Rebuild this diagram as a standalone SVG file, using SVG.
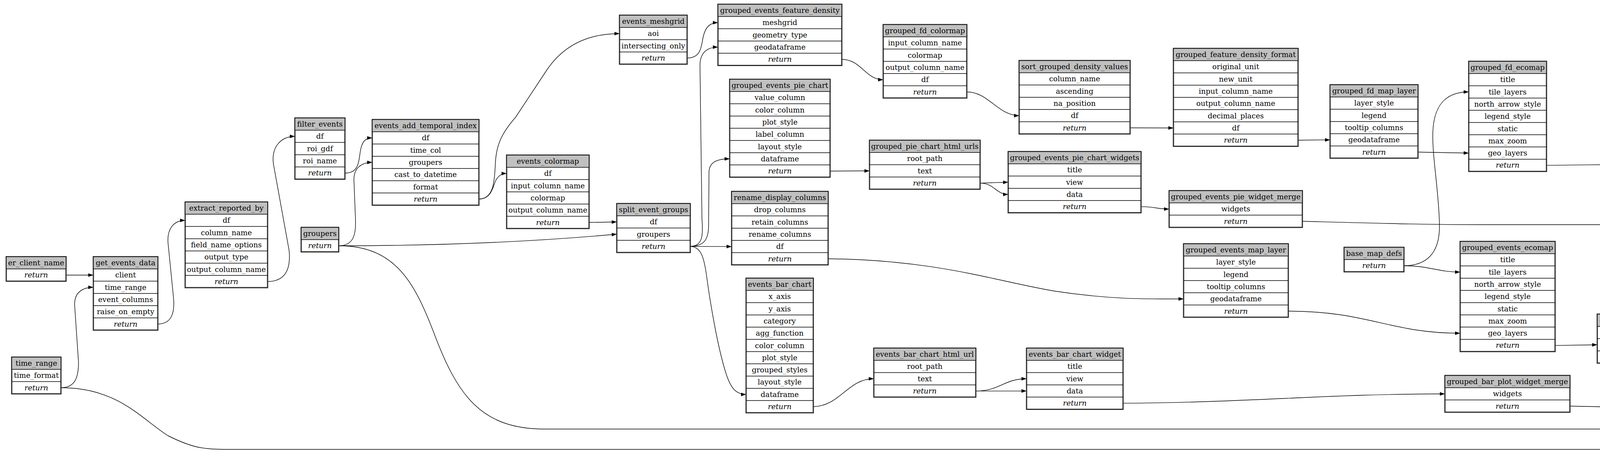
<svg xmlns="http://www.w3.org/2000/svg" width="5470" height="1190" viewBox="0 0 5470 1190">
<style>
.b{fill:#fff;stroke:#2a2a2a;stroke-width:3}
.h{fill:#c0c0c0;stroke:#000;stroke-width:1.5}
.s{fill:none;stroke:#000;stroke-width:1.5}
text{font-family:"DejaVu Serif","Liberation Serif",serif;font-size:18.67px;text-anchor:middle;fill:#000}
.r{font-style:italic}
#edges path{fill:none;stroke:#000;stroke-width:1.4;marker-end:url(#a)}
</style>
<defs>
<marker id="a" viewBox="0 0 10 7" refX="10" refY="3.5" markerWidth="13" markerHeight="9.5" markerUnits="userSpaceOnUse" orient="auto"><path d="M0,0L10,3.5L0,7z" fill="#000"/></marker>
</defs>
<rect width="5470" height="1190" fill="#fff"/>
<g id="edges">
<path d="M169,704 L239,704"/>
<path d="M156,992.3 C190,992 201,970 201,927 L191,780 C190,750 210,735.2 239,735.2"/>
<path d="M156,992.3 C300,992 360,1070 430,1115 C490,1145 520,1150 574,1150 L4700,1150 C4820,1158 4900,1188 4990,1186 C5100,1182 5180,1150 5215,1112 C5245,1078 5245,1034.9 5271,1034.9"/>
<path d="M404,829.2 C440,829 448,800 444,760 L430,620 C428,585 445,564 474,564"/>
<path d="M685,720.5 C730,720 745,690 740,640 L700,420 C694,375 720,349 755,349"/>
<path d="M883,443 C915,443 918,420 922,390 C926,362 935,353 953,353"/>
<path d="M867,629 C905,629 912,600 910,560 L906,460 C906,430 925,415.6 953,415.6"/>
<path d="M867,629 C1100,629 1350,620 1579,599.3"/>
<path d="M867,629 C1010,629 1060,720 1110,850 C1170,1010 1230,1098 1394,1098 L4700,1098 C4850,1106 4950,1116 5050,1100 C5150,1083 5210,1062 5232,1035 C5250,1012 5258,1003.6 5271,1003.6"/>
<path d="M1226,509.5 C1262,509 1266,470 1268,420 C1270,370 1285,340 1320,300 L1400,179 C1440,120 1500,86 1586,86"/>
<path d="M1226,509.5 C1260,509 1262,475 1270,460 C1278,448 1285,444 1297,444"/>
<path d="M1508,569.2 L1579,568"/>
<path d="M1759,148.6 C1795,148 1795,120 1800,95 C1806,68 1818,58 1838,58"/>
<path d="M1767,630.6 C1800,630 1800,600 1797,560 L1792,170 C1791,135 1810,120.6 1838,120.6"/>
<path d="M1767,630.6 C1805,630 1813,610 1814,580 L1815,440 C1816,415 1835,406.5 1868,406.5"/>
<path d="M1767,630.6 L1873,630.9"/>
<path d="M1767,630.6 C1795,631 1802,660 1808,700 C1820,790 1840,900 1860,960 C1872,995 1885,1009.4 1910,1009.4"/>
<path d="M2155,152 C2205,152 2215,203.9 2261,203.9"/>
<path d="M2475,235.2 C2530,235 2555,295.9 2609,295.9"/>
<path d="M2893,327.2 L3004,327.5"/>
<path d="M3323,358.8 L3405,357.9"/>
<path d="M3630,389.2 L3760,391.8"/>
<path d="M3594,680 C3650,680 3685,650 3685,580 C3685,500 3666,400 3668,340 C3670,270 3700,235.3 3760,235.3"/>
<path d="M3594,680 C3660,680 3680,696.3 3738,696.3"/>
<path d="M3959,423.1 L4112,421.3"/>
<path d="M4400,452.6 C4450,452.6 4465,422.3 4513,422.3"/>
<path d="M4400,452.6 L4513,453.6"/>
<path d="M4754,484.9 L4868,483"/>
<path d="M5179,514.3 C5210,514 5224,560 5226,640 L5222,880 C5222,940 5240,972.3 5271,972.3"/>
<path d="M5108,385 C5180,385 5232,450 5236,600 L5234,860 C5234,910 5245,941 5271,941"/>
<path d="M2125,437.8 L2226,437.3"/>
<path d="M2509,468.6 L2581,466.3"/>
<path d="M2509,468.6 C2545,468.6 2550,497.6 2581,497.6"/>
<path d="M2921,528.9 C2955,529 2965,535 2993,535"/>
<path d="M3334,566.3 C3550,572 3650,575 3800,575 L4640,575 C4850,577 4960,640 5100,780 C5180,860 5220,972.3 5271,972.3"/>
<path d="M2120,662.2 C2400,665 2550,720 2700,745 C2850,768 2950,764.9 3030,764.9"/>
<path d="M3298,796.2 C3500,796 3560,852.8 3738,852.8"/>
<path d="M3981,884.1 L4089,882.3"/>
<path d="M4422,913.6 C4460,913.6 4460,881.3 4491,881.3"/>
<path d="M4422,913.6 L4491,912.6"/>
<path d="M4776,943.9 L4846,942"/>
<path d="M5201,973.3 L5271,972.3"/>
<path d="M2082,1040.7 C2150,1040 2170,969.3 2237,969.3"/>
<path d="M2498,1000.6 C2560,1000.6 2570,969.3 2628,969.3"/>
<path d="M2498,1000.6 L2628,1000.6"/>
<path d="M2875,1031.9 C3200,1030 3400,1008 3699,1008"/>
<path d="M4019,1039.3 C4300,1045 4500,1051 4700,1051 C4950,1051 5150,1030 5211,1006 C5240,995 5250,972.3 5271,972.3"/>
</g>

<g id="er_client_name" transform="translate(16,657)"><rect class="b" width="153" height="62.6"/><rect class="h" width="153" height="31.3"/><text x="76.5" y="22">er_client_name</text><text class="r" x="76.5" y="53.3">return</text></g>

<g id="get_events_data" transform="translate(239,657)"><rect class="b" width="165" height="187.8"/><rect class="h" width="165" height="31.3"/><path class="s" d="M0,62.6H165M0,93.9H165M0,125.2H165M0,156.5H165"/><text x="82.5" y="22">get_events_data</text><text x="82.5" y="53.3">client</text><text x="82.5" y="84.6">time_range</text><text x="82.5" y="115.9">event_columns</text><text x="82.5" y="147.2">raise_on_empty</text><text class="r" x="82.5" y="178.5">return</text></g>

<g id="extract_reported_by" transform="translate(474,517)"><rect class="b" width="211" height="219.1"/><rect class="h" width="211" height="31.3"/><path class="s" d="M0,62.6H211M0,93.9H211M0,125.2H211M0,156.5H211M0,187.8H211"/><text x="105.5" y="22">extract_reported_by</text><text x="105.5" y="53.3">df</text><text x="105.5" y="84.6">column_name</text><text x="105.5" y="115.9">field_name_options</text><text x="105.5" y="147.2">output_type</text><text x="105.5" y="178.5">output_column_name</text><text class="r" x="105.5" y="209.8">return</text></g>

<g id="filter_events" transform="translate(755,302)"><rect class="b" width="128" height="156.5"/><rect class="h" width="128" height="31.3"/><path class="s" d="M0,62.6H128M0,93.9H128M0,125.2H128"/><text x="64" y="22">filter_events</text><text x="64" y="53.3">df</text><text x="64" y="84.6">roi_gdf</text><text x="64" y="115.9">roi_name</text><text class="r" x="64" y="147.2">return</text></g>

<g id="groupers" transform="translate(771,582)"><rect class="b" width="96" height="62.6"/><rect class="h" width="96" height="31.3"/><text x="48" y="22">groupers</text><text class="r" x="48" y="53.3">return</text></g>

<g id="time_range" transform="translate(30,914)"><rect class="b" width="126" height="93.9"/><rect class="h" width="126" height="31.3"/><path class="s" d="M0,62.6H126"/><text x="63" y="22">time_range</text><text x="63" y="53.3">time_format</text><text class="r" x="63" y="84.6">return</text></g>

<g id="events_add_temporal_index" transform="translate(953,306)"><rect class="b" width="273" height="219.1"/><rect class="h" width="273" height="31.3"/><path class="s" d="M0,62.6H273M0,93.9H273M0,125.2H273M0,156.5H273M0,187.8H273"/><text x="136.5" y="22">events_add_temporal_index</text><text x="136.5" y="53.3">df</text><text x="136.5" y="84.6">time_col</text><text x="136.5" y="115.9">groupers</text><text x="136.5" y="147.2">cast_to_datetime</text><text x="136.5" y="178.5">format</text><text class="r" x="136.5" y="209.8">return</text></g>

<g id="events_colormap" transform="translate(1297,397)"><rect class="b" width="211" height="187.8"/><rect class="h" width="211" height="31.3"/><path class="s" d="M0,62.6H211M0,93.9H211M0,125.2H211M0,156.5H211"/><text x="105.5" y="22">events_colormap</text><text x="105.5" y="53.3">df</text><text x="105.5" y="84.6">input_column_name</text><text x="105.5" y="115.9">colormap</text><text x="105.5" y="147.2">output_column_name</text><text class="r" x="105.5" y="178.5">return</text></g>

<g id="split_event_groups" transform="translate(1579,521)"><rect class="b" width="188" height="125.2"/><rect class="h" width="188" height="31.3"/><path class="s" d="M0,62.6H188M0,93.9H188"/><text x="94" y="22">split_event_groups</text><text x="94" y="53.3">df</text><text x="94" y="84.6">groupers</text><text class="r" x="94" y="115.9">return</text></g>

<g id="events_meshgrid" transform="translate(1586,39)"><rect class="b" width="173" height="125.2"/><rect class="h" width="173" height="31.3"/><path class="s" d="M0,62.6H173M0,93.9H173"/><text x="86.5" y="22">events_meshgrid</text><text x="86.5" y="53.3">aoi</text><text x="86.5" y="84.6">intersecting_only</text><text class="r" x="86.5" y="115.9">return</text></g>

<g id="grouped_events_feature_density" transform="translate(1838,11)"><rect class="b" width="317" height="156.5"/><rect class="h" width="317" height="31.3"/><path class="s" d="M0,62.6H317M0,93.9H317M0,125.2H317"/><text x="158.5" y="22">grouped_events_feature_density</text><text x="158.5" y="53.3">meshgrid</text><text x="158.5" y="84.6">geometry_type</text><text x="158.5" y="115.9">geodataframe</text><text class="r" x="158.5" y="147.2">return</text></g>

<g id="grouped_events_pie_chart" transform="translate(1868,203)"><rect class="b" width="257" height="250.4"/><rect class="h" width="257" height="31.3"/><path class="s" d="M0,62.6H257M0,93.9H257M0,125.2H257M0,156.5H257M0,187.8H257M0,219.1H257"/><text x="128.5" y="22">grouped_events_pie_chart</text><text x="128.5" y="53.3">value_column</text><text x="128.5" y="84.6">color_column</text><text x="128.5" y="115.9">plot_style</text><text x="128.5" y="147.2">label_column</text><text x="128.5" y="178.5">layout_style</text><text x="128.5" y="209.8">dataframe</text><text class="r" x="128.5" y="241.1">return</text></g>

<g id="rename_display_columns" transform="translate(1873,490)"><rect class="b" width="247" height="187.8"/><rect class="h" width="247" height="31.3"/><path class="s" d="M0,62.6H247M0,93.9H247M0,125.2H247M0,156.5H247"/><text x="123.5" y="22">rename_display_columns</text><text x="123.5" y="53.3">drop_columns</text><text x="123.5" y="84.6">retain_columns</text><text x="123.5" y="115.9">rename_columns</text><text x="123.5" y="147.2">df</text><text class="r" x="123.5" y="178.5">return</text></g>

<g id="events_bar_chart" transform="translate(1910,712)"><rect class="b" width="172" height="344.3"/><rect class="h" width="172" height="31.3"/><path class="s" d="M0,62.6H172M0,93.9H172M0,125.2H172M0,156.5H172M0,187.8H172M0,219.1H172M0,250.4H172M0,281.7H172M0,313H172"/><text x="86" y="22">events_bar_chart</text><text x="86" y="53.3">x_axis</text><text x="86" y="84.6">y_axis</text><text x="86" y="115.9">category</text><text x="86" y="147.2">agg_function</text><text x="86" y="178.5">color_column</text><text x="86" y="209.8">plot_style</text><text x="86" y="241.1">grouped_styles</text><text x="86" y="272.4">layout_style</text><text x="86" y="303.7">dataframe</text><text class="r" x="86" y="335">return</text></g>

<g id="grouped_fd_colormap" transform="translate(2261,63)"><rect class="b" width="214" height="187.8"/><rect class="h" width="214" height="31.3"/><path class="s" d="M0,62.6H214M0,93.9H214M0,125.2H214M0,156.5H214"/><text x="107" y="22">grouped_fd_colormap</text><text x="107" y="53.3">input_column_name</text><text x="107" y="84.6">colormap</text><text x="107" y="115.9">output_column_name</text><text x="107" y="147.2">df</text><text class="r" x="107" y="178.5">return</text></g>

<g id="grouped_pie_chart_html_urls" transform="translate(2226,359)"><rect class="b" width="283" height="125.2"/><rect class="h" width="283" height="31.3"/><path class="s" d="M0,62.6H283M0,93.9H283"/><text x="141.5" y="22">grouped_pie_chart_html_urls</text><text x="141.5" y="53.3">root_path</text><text x="141.5" y="84.6">text</text><text class="r" x="141.5" y="115.9">return</text></g>

<g id="events_bar_chart_html_url" transform="translate(2237,891)"><rect class="b" width="261" height="125.2"/><rect class="h" width="261" height="31.3"/><path class="s" d="M0,62.6H261M0,93.9H261"/><text x="130.5" y="22">events_bar_chart_html_url</text><text x="130.5" y="53.3">root_path</text><text x="130.5" y="84.6">text</text><text class="r" x="130.5" y="115.9">return</text></g>

<g id="sort_grouped_density_values" transform="translate(2609,155)"><rect class="b" width="284" height="187.8"/><rect class="h" width="284" height="31.3"/><path class="s" d="M0,62.6H284M0,93.9H284M0,125.2H284M0,156.5H284"/><text x="142" y="22">sort_grouped_density_values</text><text x="142" y="53.3">column_name</text><text x="142" y="84.6">ascending</text><text x="142" y="115.9">na_position</text><text x="142" y="147.2">df</text><text class="r" x="142" y="178.5">return</text></g>

<g id="grouped_events_pie_chart_widgets" transform="translate(2581,388)"><rect class="b" width="340" height="156.5"/><rect class="h" width="340" height="31.3"/><path class="s" d="M0,62.6H340M0,93.9H340M0,125.2H340"/><text x="170" y="22">grouped_events_pie_chart_widgets</text><text x="170" y="53.3">title</text><text x="170" y="84.6">view</text><text x="170" y="115.9">data</text><text class="r" x="170" y="147.2">return</text></g>

<g id="events_bar_chart_widget" transform="translate(2628,891)"><rect class="b" width="247" height="156.5"/><rect class="h" width="247" height="31.3"/><path class="s" d="M0,62.6H247M0,93.9H247M0,125.2H247"/><text x="123.5" y="22">events_bar_chart_widget</text><text x="123.5" y="53.3">title</text><text x="123.5" y="84.6">view</text><text x="123.5" y="115.9">data</text><text class="r" x="123.5" y="147.2">return</text></g>

<g id="grouped_feature_density_format" transform="translate(3004,124)"><rect class="b" width="319" height="250.4"/><rect class="h" width="319" height="31.3"/><path class="s" d="M0,62.6H319M0,93.9H319M0,125.2H319M0,156.5H319M0,187.8H319M0,219.1H319"/><text x="159.5" y="22">grouped_feature_density_format</text><text x="159.5" y="53.3">original_unit</text><text x="159.5" y="84.6">new_unit</text><text x="159.5" y="115.9">input_column_name</text><text x="159.5" y="147.2">output_column_name</text><text x="159.5" y="178.5">decimal_places</text><text x="159.5" y="209.8">df</text><text class="r" x="159.5" y="241.1">return</text></g>

<g id="grouped_events_pie_widget_merge" transform="translate(2993,488)"><rect class="b" width="341" height="93.9"/><rect class="h" width="341" height="31.3"/><path class="s" d="M0,62.6H341"/><text x="170.5" y="22">grouped_events_pie_widget_merge</text><text x="170.5" y="53.3">widgets</text><text class="r" x="170.5" y="84.6">return</text></g>

<g id="grouped_events_map_layer" transform="translate(3030,624)"><rect class="b" width="268" height="187.8"/><rect class="h" width="268" height="31.3"/><path class="s" d="M0,62.6H268M0,93.9H268M0,125.2H268M0,156.5H268"/><text x="134" y="22">grouped_events_map_layer</text><text x="134" y="53.3">layer_style</text><text x="134" y="84.6">legend</text><text x="134" y="115.9">tooltip_columns</text><text x="134" y="147.2">geodataframe</text><text class="r" x="134" y="178.5">return</text></g>

<g id="grouped_fd_map_layer" transform="translate(3405,217)"><rect class="b" width="225" height="187.8"/><rect class="h" width="225" height="31.3"/><path class="s" d="M0,62.6H225M0,93.9H225M0,125.2H225M0,156.5H225"/><text x="112.5" y="22">grouped_fd_map_layer</text><text x="112.5" y="53.3">layer_style</text><text x="112.5" y="84.6">legend</text><text x="112.5" y="115.9">tooltip_columns</text><text x="112.5" y="147.2">geodataframe</text><text class="r" x="112.5" y="178.5">return</text></g>

<g id="base_map_defs" transform="translate(3441,633)"><rect class="b" width="153" height="62.6"/><rect class="h" width="153" height="31.3"/><text x="76.5" y="22">base_map_defs</text><text class="r" x="76.5" y="53.3">return</text></g>

<g id="grouped_fd_ecomap" transform="translate(3760,157)"><rect class="b" width="199" height="281.7"/><rect class="h" width="199" height="31.3"/><path class="s" d="M0,62.6H199M0,93.9H199M0,125.2H199M0,156.5H199M0,187.8H199M0,219.1H199M0,250.4H199"/><text x="99.5" y="22">grouped_fd_ecomap</text><text x="99.5" y="53.3">title</text><text x="99.5" y="84.6">tile_layers</text><text x="99.5" y="115.9">north_arrow_style</text><text x="99.5" y="147.2">legend_style</text><text x="99.5" y="178.5">static</text><text x="99.5" y="209.8">max_zoom</text><text x="99.5" y="241.1">geo_layers</text><text class="r" x="99.5" y="272.4">return</text></g>

<g id="grouped_events_ecomap" transform="translate(3738,618)"><rect class="b" width="243" height="281.7"/><rect class="h" width="243" height="31.3"/><path class="s" d="M0,62.6H243M0,93.9H243M0,125.2H243M0,156.5H243M0,187.8H243M0,219.1H243M0,250.4H243"/><text x="121.5" y="22">grouped_events_ecomap</text><text x="121.5" y="53.3">title</text><text x="121.5" y="84.6">tile_layers</text><text x="121.5" y="115.9">north_arrow_style</text><text x="121.5" y="147.2">legend_style</text><text x="121.5" y="178.5">static</text><text x="121.5" y="209.8">max_zoom</text><text x="121.5" y="241.1">geo_layers</text><text class="r" x="121.5" y="272.4">return</text></g>

<g id="grouped_bar_plot_widget_merge" transform="translate(3699,961)"><rect class="b" width="320" height="93.9"/><rect class="h" width="320" height="31.3"/><path class="s" d="M0,62.6H320"/><text x="160" y="22">grouped_bar_plot_widget_merge</text><text x="160" y="53.3">widgets</text><text class="r" x="160" y="84.6">return</text></g>

<g id="grouped_fd_ecomap_html_url" transform="translate(4112,343)"><rect class="b" width="288" height="125.2"/><rect class="h" width="288" height="31.3"/><path class="s" d="M0,62.6H288M0,93.9H288"/><text x="144" y="22">grouped_fd_ecomap_html_url</text><text x="144" y="53.3">root_path</text><text x="144" y="84.6">text</text><text class="r" x="144" y="115.9">return</text></g>

<g id="grouped_events_ecomap_html_url" transform="translate(4089,804)"><rect class="b" width="333" height="125.2"/><rect class="h" width="333" height="31.3"/><path class="s" d="M0,62.6H333M0,93.9H333"/><text x="166.5" y="22">grouped_events_ecomap_html_url</text><text x="166.5" y="53.3">root_path</text><text x="166.5" y="84.6">text</text><text class="r" x="166.5" y="115.9">return</text></g>

<g id="grouped_fd_map_widget" transform="translate(4513,344)"><rect class="b" width="241" height="156.5"/><rect class="h" width="241" height="31.3"/><path class="s" d="M0,62.6H241M0,93.9H241M0,125.2H241"/><text x="120.5" y="22">grouped_fd_map_widget</text><text x="120.5" y="53.3">title</text><text x="120.5" y="84.6">view</text><text x="120.5" y="115.9">data</text><text class="r" x="120.5" y="147.2">return</text></g>

<g id="grouped_events_map_widget" transform="translate(4491,803)"><rect class="b" width="285" height="156.5"/><rect class="h" width="285" height="31.3"/><path class="s" d="M0,62.6H285M0,93.9H285M0,125.2H285"/><text x="142.5" y="22">grouped_events_map_widget</text><text x="142.5" y="53.3">title</text><text x="142.5" y="84.6">view</text><text x="142.5" y="115.9">data</text><text class="r" x="142.5" y="147.2">return</text></g>

<g id="workflow_details" transform="translate(4939,338)"><rect class="b" width="169" height="62.6"/><rect class="h" width="169" height="31.3"/><text x="84.5" y="22">workflow_details</text><text class="r" x="84.5" y="53.3">return</text></g>

<g id="grouped_fd_map_widget_merge" transform="translate(4868,436)"><rect class="b" width="311" height="93.9"/><rect class="h" width="311" height="31.3"/><path class="s" d="M0,62.6H311"/><text x="155.5" y="22">grouped_fd_map_widget_merge</text><text x="155.5" y="53.3">widgets</text><text class="r" x="155.5" y="84.6">return</text></g>

<g id="grouped_events_map_widget_merge" transform="translate(4846,895)"><rect class="b" width="355" height="93.9"/><rect class="h" width="355" height="31.3"/><path class="s" d="M0,62.6H355"/><text x="177.5" y="22">grouped_events_map_widget_merge</text><text x="177.5" y="53.3">widgets</text><text class="r" x="177.5" y="84.6">return</text></g>

<g id="events_dashboard" transform="translate(5271,894)"><rect class="b" width="182" height="187.8"/><rect class="h" width="182" height="31.3"/><path class="s" d="M0,62.6H182M0,93.9H182M0,125.2H182M0,156.5H182"/><text x="91" y="22">events_dashboard</text><text x="91" y="53.3">details</text><text x="91" y="84.6">widgets</text><text x="91" y="115.9">groupers</text><text x="91" y="147.2">time_range</text><text class="r" x="91" y="178.5">return</text></g>
</svg>
